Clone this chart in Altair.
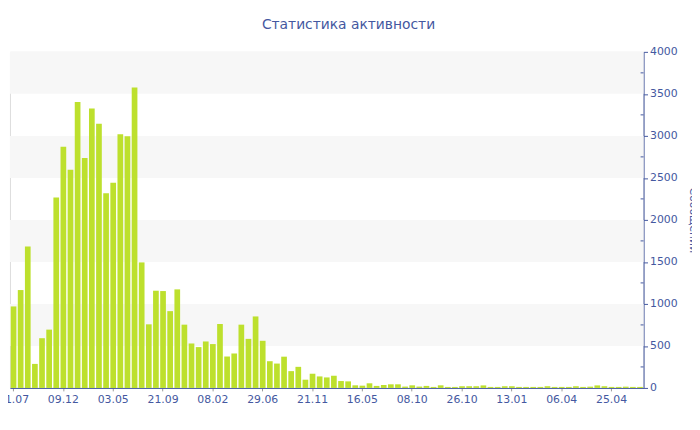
import altair as alt
import pandas as pd

values = [970, 1165, 1682, 286, 592, 694, 2267, 2871, 2596, 3404,
          2737, 3325, 3145, 2318, 2443, 3020, 2996, 3576, 1494, 757,
          1157, 1153, 914, 1173, 753, 529, 486, 553, 522, 761,
          374, 410, 753, 584, 851, 561, 318, 290, 372, 200,
          251, 98, 169, 137, 125, 145, 82, 78, 31, 27,
          55, 24, 35, 43, 43, 16, 31, 16, 24, 12,
          31, 12, 12, 20, 20, 20, 30, 12, 12, 20,
          20, 12, 12, 12, 12, 20, 12, 12, 12, 20,
          12, 15, 30, 20, 12, 12, 15, 12, 12]
tick_labels = ['21.07', '09.12', '03.05', '21.09', '08.02', '29.06', '21.11',
               '16.05', '08.10', '26.10', '13.01', '06.04', '25.04']
label_step = 7
band_lo = [500, 1500, 2500, 3500]
band_hi = [1000, 2000, 3000, 4000]
minor_ticks = [250, 750, 1250, 1750, 2250, 2750, 3250, 3750]

BLUE = "#4458a0"
FONT = "DejaVu Sans"

df = pd.DataFrame({"i": list(range(len(values))), "v": values})
bands = pd.DataFrame({"lo": band_lo, "hi": band_hi})
minors = pd.DataFrame({"m": minor_ticks})

label_arr = "[" + ",".join("'" + t + "'" for t in tick_labels) + "]"

yscale = alt.Scale(domain=[0, 4000])

bars = alt.Chart(df).mark_bar(color="#bde02d").encode(
    x=alt.X("i:O",
            scale=alt.Scale(paddingInner=0.2, paddingOuter=0.1),
            axis=alt.Axis(values=[k * label_step for k in range(len(tick_labels))],
                          labelExpr=label_arr + "[datum.value/" + str(label_step) + "]",
                          labelAngle=0, title=None, domainColor=BLUE,
                          tickColor="#999999", tickSize=3, labelPadding=3,
                          labelColor=BLUE, labelFont=FONT, labelFontSize=11)),
    y=alt.Y("v:Q", scale=yscale,
            axis=alt.Axis(orient="right", values=list(range(0, 4001, 500)),
                          format="d",
                          grid=False, title="Сообщений", titleAngle=90,
                          titleColor=BLUE, titleFont=FONT, titleFontSize=11,
                          titleFontWeight="normal", titlePadding=10,
                          domainColor=BLUE, tickColor=BLUE, tickSize=4,
                          labelColor=BLUE, labelFont=FONT, labelFontSize=11,
                          labelPadding=2)),
)

band_layer = alt.Chart(bands).mark_rect(color="#f7f7f7").encode(
    y=alt.Y("lo:Q", scale=yscale, axis=None),
    y2="hi:Q",
    x=alt.value(0),
    x2=alt.value(641),
)

minor_layer = alt.Chart(minors).mark_rule(color=BLUE).encode(
    y=alt.Y("m:Q", scale=yscale, axis=None),
    x=alt.value(638),
    x2=alt.value(641),
)

chart = alt.layer(band_layer, bars, minor_layer).resolve_axis(
    y="independent"
).properties(
    width=641,
    height=340,
    padding={"left": 2, "top": 42, "right": 49, "bottom": 24},
    autosize=alt.AutoSizeParams(type="none"),
    title=alt.TitleParams("Статистика активности", font=FONT, fontSize=14,
                          fontWeight="normal", color=BLUE, anchor="middle",
                          offset=14, dx=22),
).configure_view(stroke="transparent", strokeWidth=0).configure(background="white")

chart.save("out.html", embed_options={"renderer": "svg", "actions": False})
